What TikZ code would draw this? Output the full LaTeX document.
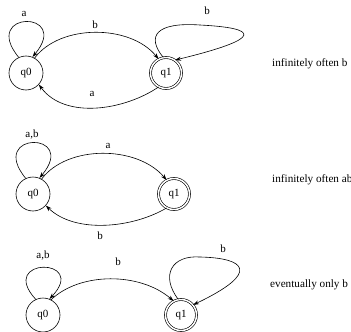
\documentclass[tikz,border=0pt]{standalone}
\usepackage{fontspec}
\setmainfont{Liberation Serif}
\usetikzlibrary{arrows.meta}
\begin{document}
\begin{tikzpicture}[x=1pt,y=-1pt,
  font=\fontsize{11}{13}\selectfont,
  state/.style={circle,draw,line width=0.6pt,minimum size=34pt,inner sep=0pt},
  accept/.style={circle,draw,line width=0.6pt,double,double distance=1.5pt,minimum size=31pt,inner sep=0pt},
  edge/.style={line width=0.6pt,-{Stealth[length=6pt,width=4pt]}},
  lbl/.style={inner sep=0pt},
  side/.style={inner sep=0pt,anchor=west,font=\fontsize{11.2}{13}\selectfont}]
\useasboundingbox (0,0) rectangle (351,332);
% ---------- diagram 1 ----------
\node[state]  (a0) at (26,73)  {q0};
\node[accept] (a1) at (166,73) {q1};
\node[side] (ta) at (272,64) {infinitely often b};
\draw[edge] (a0.115) .. controls (-20,10) and (72,10) .. (a0.68);
\node[lbl] (la1) at (24,14) {a};
\draw[edge] (a0.60) .. controls (60,24) and (130,24) .. (a1.118);
\node[lbl] (la2) at (95,25) {b};
\draw[edge] (a1.-118) .. controls (125,110) and (65,120) .. (a0.-42);
\node[lbl] (la3) at (92,94) {a};
\draw[edge] (a1.100) .. controls (146,36) and (156,22) .. (200,25) .. controls (258,28) and (266,38) .. (a1.55);
\node[lbl] (la4) at (207,11) {b};
% ---------- diagram 2 ----------
\node[state]  (b0) at (33,194)  {q0};
\node[accept] (b1) at (174,194) {q1};
\node[side] (tb) at (272,180) {infinitely often ab};
\draw[edge] (b0.115) .. controls (-13,131) and (79,131) .. (b0.68);
\node[lbl] (lb1) at (32,135) {a,b};
\draw[edge] (b0.60) .. controls (67,145) and (137,145) .. (b1.118);
\node[lbl] (lb2) at (108,146) {a};
\draw[edge] (b1.-118) .. controls (133,228) and (75,234) .. (b0.-42);
\node[lbl] (lb3) at (100,236) {b};
% ---------- diagram 3 ----------
\node[state]  (c0) at (43,315)  {q0};
\node[accept] (c1) at (181,315) {q1};
\node[side] (tc) at (270,285) {eventually only b};
\draw[edge] (c0.115) .. controls (-3,257) and (89,257) .. (c0.68);
\node[lbl] (lc1) at (43,256) {a,b};
\draw[edge] (c0.62) .. controls (80,272) and (140,272) .. (c1.118);
\node[lbl] (lc2) at (118,262) {b};
\draw[edge] (c1.100) .. controls (160,275) and (172,255) .. (200,257) .. controls (245,258) and (262,272) .. (c1.40);
\node[lbl] (lc3) at (223,249) {b};
\end{tikzpicture}
\end{document}
